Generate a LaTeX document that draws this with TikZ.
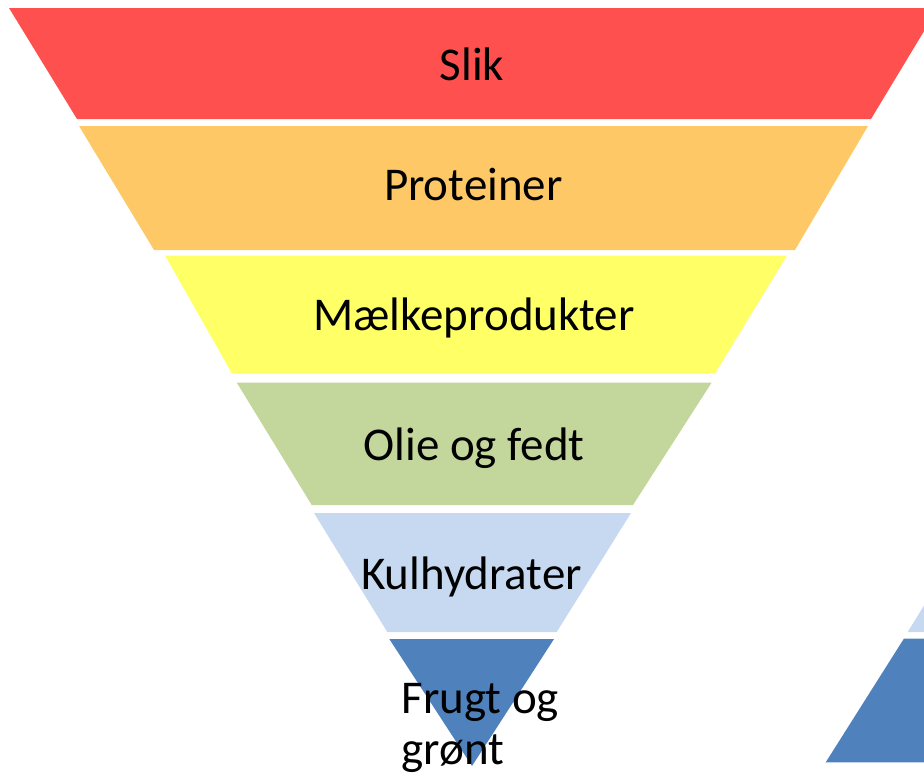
\documentclass[tikz,border=0pt]{standalone}
\usepackage{fontspec}
\setmainfont{Carlito}
\definecolor{cred}{HTML}{FF5050}
\definecolor{corange}{HTML}{FFC866}
\definecolor{cyellow}{HTML}{FFFF66}
\definecolor{cgreen}{HTML}{C3D69B}
\definecolor{clblue}{HTML}{C6D9F1}
\definecolor{cdblue}{HTML}{4F81BD}
\begin{document}
\begin{tikzpicture}[x=1pt,y=-1pt,
  lbl/.style={font=\fontsize{47}{52}\selectfont, text=black, inner sep=0pt, anchor=base}]
\useasboundingbox (0,0) rectangle (924,780);
\clip (0,0) rectangle (924,780);
% main inverted pyramid
\fill[cred]    (9,8) -- (938,8) -- (871,119) -- (77,119) -- cycle;
\fill[corange] (79,126) -- (868,126) -- (795,250) -- (154,250) -- cycle;
\fill[cyellow] (165,255.5) -- (787,255.5) -- (715,373.5) -- (232,373.5) -- cycle;
\fill[cgreen]  (236.7,382.5) -- (711.7,382.5) -- (633,505) -- (311.7,505) -- cycle;
\fill[clblue]  (314,513) -- (631,513) -- (556.7,632) -- (387.3,632) -- cycle;
\fill[cdblue]  (389.3,639) -- (554,639) -- (472,766) -- cycle;
% second (partly visible) pyramid at the right edge
\fill[clblue]  (907.7,632) -- (981,513) -- (1100,513) -- (1100,632) -- cycle;
\fill[cdblue]  (904,638.5) -- (1100,638.5) -- (1100,762.3) -- (825.7,762.3) -- cycle;
% labels
\node[lbl] (slik) at (472,80) {Slik};
\node[lbl] (prot) at (473.3,200) {Proteiner};
\node[lbl] (maelk) at (474,330) {Mælkeprodukter};
\node[lbl] (olie) at (474,460.5) {Olie og fedt};
\node[lbl] (kul) at (471.5,589) {Kulhydrater};
\node[lbl, anchor=base west] (frugt1) at (401.5,713) {Frugt og};
\node[lbl, anchor=base west] (frugt2) at (401.5,764.5) {grønt};
\end{tikzpicture}
\end{document}
